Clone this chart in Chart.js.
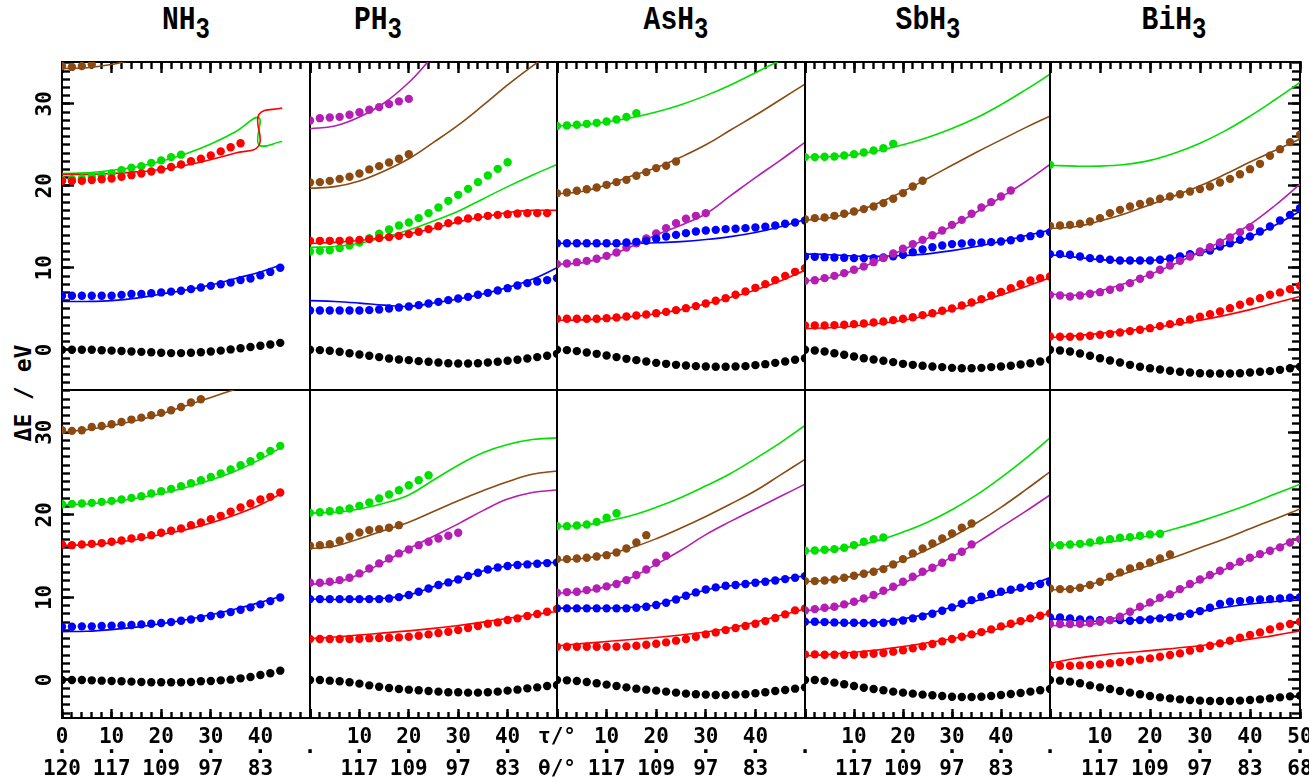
<!DOCTYPE html>
<html>
<head>
<meta charset="utf-8">
<title>Hydride potential curves</title>
<script src="https://cdn.jsdelivr.net/npm/chart.js@4.4.1/dist/chart.umd.min.js"></script>
<style>
  html, body { margin: 0; padding: 0; background: #fff; }
  #page { position: relative; width: 1309px; height: 782px; overflow: hidden; }
  #page canvas { position: absolute; }
  .title {
    position: absolute; top: 8px; width: 140px; margin-left: -70px; text-align: center;
    font: bold 28px "Liberation Mono", monospace; line-height: 32px;
    transform: scaleY(1.2); transform-origin: 50% 100%;
  }
  .title sub { font-size: 24px; vertical-align: -7px; line-height: 0; }
  #ylabel {
    position: absolute; left: 23px; top: 393px; white-space: pre;
    transform: translate(-50%, -50%) rotate(-90deg);
    font: bold 23px "DejaVu Sans Mono", monospace;
  }
</style>
</head>
<body>
<div id="page">
  <div class="title" style="left:186px">NH<sub>3</sub></div>
  <div class="title" style="left:378px">PH<sub>3</sub></div>
  <div class="title" style="left:676px">AsH<sub>3</sub></div>
  <div class="title" style="left:928px">SbH<sub>3</sub></div>
  <div class="title" style="left:1174px">BiH<sub>3</sub></div>
  <div id="ylabel">ΔE / eV</div>
</div>
<script>
// x grid: dots every 2 deg, fitted curves sampled every 5 deg
const tauDots = [0, 2, 4, 6, 8, 10, 12, 14, 16, 18, 20, 22, 24, 26, 28, 30, 32, 34, 36, 38, 40, 42, 44, 46, 48, 50];
const tauLine = [0, 5, 10, 15, 20, 25, 30, 35, 40, 45, 50];
const tauLineNH3 = [0, 5, 10, 15, 20, 25, 30, 35, 40, 44];
const tauCrossNH3 = [0, 5, 10, 15, 20, 25, 30, 35, 39.7, 39.7, 44.4];
const tauBrownNH3U = [0, 5, 10, 13];
const tauBrownNH3L = [0, 5, 10, 15, 20, 25, 30, 35];
const tauBrownPH3U = [0, 5, 10, 15, 20, 25, 30, 35, 40, 45, 48];
const tauMagentaPH3U = [0, 5, 10, 15, 20, 24];
const tauGreenAsH3U = [0, 5, 10, 15, 20, 25, 30, 35, 40, 45];

const tauTicks = [0, 10, 20, 30, 40, 50];
const tauLabels = ['0', '10', '20', '30', '40', '50'];
const thetaLabels = ['120', '117', '109', '97', '83', '68'];
const yTicks = [0, 10, 20, 30];

const colors = {
  black: '#000000', red: '#ff0000', blue: '#0000ff',
  green: '#00e000', brown: '#8b4a12', magenta: '#b41eb4'
};

// ---- NH3, upper row
const nh3U_black = [0, 0, 0, 0, -0.05, -0.1, -0.15, -0.2, -0.25, -0.3, -0.35, -0.4, -0.4, -0.35, -0.3, -0.2, -0.1, 0.05, 0.2, 0.35, 0.5, 0.65, 0.85];
const nh3U_blue = [6.6, 6.6, 6.6, 6.6, 6.6, 6.6, 6.7, 6.8, 6.8, 6.9, 7.0, 7.1, 7.2, 7.4, 7.6, 7.8, 8.0, 8.2, 8.5, 8.7, 9.1, 9.5, 10.0];
const nh3U_red = [20.6, 20.6, 20.6, 20.7, 20.8, 20.9, 21.1, 21.3, 21.5, 21.75, 22.0, 22.3, 22.6, 23.0, 23.3, 23.7, 24.2, 24.7, 25.2];
const nh3U_green = [20.7, 20.8, 20.9, 21.1, 21.3, 21.5, 21.9, 22.2, 22.4, 22.8, 23.1, 23.5, 23.8];
const nh3U_brown = [34.6, 34.5, 34.6, 34.8];
const nh3U_blueLine = [5.9, 5.9, 6.0, 6.3, 6.8, 7.3, 7.9, 8.7, 9.5, 10.3];
const nh3U_redLine = [21.4, 21.4, 21.5, 21.7, 22.0, 22.5, 23.2, 24.0, 24.9, 28.7, 29.5];
const nh3U_greenLine = [21.5, 21.6, 21.9, 22.3, 23.0, 23.9, 25.1, 26.6, 28.3, 25.0, 25.4];
const nh3U_brownLine = [34.3, 34.4, 34.8, 35.2];

// ---- PH3, upper row
const ph3U_black = [0, -0.04, -0.12, -0.24, -0.41, -0.57, -0.73, -0.89, -1.06, -1.18, -1.26, -1.38, -1.46, -1.54, -1.63, -1.67, -1.67, -1.63, -1.54, -1.46, -1.34, -1.22, -1.06, -0.89, -0.73, -0.49];
const ph3U_blue = [4.8, 4.8, 4.8, 4.8, 4.8, 4.8, 4.84, 4.92, 5.04, 5.16, 5.28, 5.45, 5.65, 5.85, 6.06, 6.26, 6.46, 6.71, 6.95, 7.24, 7.52, 7.85, 8.13, 8.33, 8.5, 8.74];
const ph3U_red = [13.29, 13.29, 13.29, 13.29, 13.33, 13.41, 13.5, 13.62, 13.74, 13.9, 14.11, 14.39, 14.72, 15.08, 15.45, 15.77, 16.02, 16.18, 16.34, 16.46, 16.54, 16.63, 16.67, 16.67, 16.67];
const ph3U_green = [12.0, 12.07, 12.15, 12.4, 12.72, 13.09, 13.62, 14.15, 14.67, 15.16, 15.53, 16.06, 16.67, 17.36, 18.17, 18.9, 19.63, 20.45, 21.26, 22.07, 22.88];
const ph3U_brown = [20.4, 20.45, 20.6, 20.85, 21.1, 21.5, 22.0, 22.4, 22.85, 23.3, 23.85];
const ph3U_magenta = [27.97, 28.25, 28.33, 28.41, 28.66, 28.98, 29.27, 29.6, 29.96, 30.3, 30.6];
const ph3U_blueLine = [6.0, 5.9, 5.7, 5.45, 5.3, 5.7, 6.2, 6.8, 7.6, 8.6, 10.0];
const ph3U_redLine = [13.0, 13.1, 13.33, 13.7, 14.15, 14.8, 15.6, 16.2, 16.75, 17.0, 17.0];
const ph3U_greenLine = [12.5, 12.6, 13.0, 13.7, 14.6, 15.7, 16.9, 18.4, 19.9, 21.3, 22.6];
const ph3U_brownLine = [19.7, 19.9, 20.6, 21.8, 23.3, 25.3, 27.4, 29.8, 32.3, 34.6, 35.8];
const ph3U_magentaLine = [26.95, 27.3, 28.4, 30.1, 32.6, 35.2];

// ---- AsH3, upper row
const ash3U_black = [0, -0.04, -0.16, -0.33, -0.49, -0.69, -0.89, -1.1, -1.26, -1.42, -1.59, -1.71, -1.83, -1.91, -1.99, -2.03, -2.07, -2.07, -2.03, -1.99, -1.87, -1.75, -1.59, -1.42, -1.22, -1.02];
const ash3U_red = [3.78, 3.78, 3.78, 3.78, 3.78, 3.86, 3.94, 4.07, 4.19, 4.31, 4.47, 4.63, 4.84, 5.08, 5.33, 5.65, 5.98, 6.3, 6.71, 7.11, 7.56, 8.01, 8.5, 9.02, 9.51, 9.96];
const ash3U_blue = [13.0, 13.0, 13.0, 13.0, 13.0, 13.0, 13.0, 13.09, 13.17, 13.29, 13.54, 13.82, 14.02, 14.23, 14.43, 14.55, 14.63, 14.72, 14.76, 14.84, 14.92, 15.0, 15.17, 15.37, 15.53, 15.77];
const ash3U_magenta = [10.45, 10.53, 10.69, 10.85, 11.1, 11.46, 11.87, 12.48, 13.0, 13.58, 14.19, 14.84, 15.45, 15.98, 16.34, 16.67];
const ash3U_brown = [19.1, 19.19, 19.39, 19.59, 19.8, 20.12, 20.45, 20.73, 21.22, 21.67, 22.16, 22.44, 22.97];
const ash3U_green = [27.3, 27.35, 27.44, 27.56, 27.68, 27.85, 28.09, 28.41, 28.86];
const ash3U_redLine = [3.6, 3.65, 3.8, 4.05, 4.4, 4.9, 5.6, 6.4, 7.3, 8.4, 9.7];
const ash3U_blueLine = [13.0, 12.95, 12.9, 12.95, 13.05, 13.2, 13.45, 13.8, 14.3, 15.0, 15.9];
const ash3U_magentaLine = [10.45, 10.6, 11.4, 12.6, 14.0, 15.2, 16.6, 18.8, 21.0, 23.1, 25.3];
const ash3U_brownLine = [19.0, 19.3, 20.1, 21.2, 22.2, 23.5, 25.0, 26.8, 28.6, 30.5, 32.4];
const ash3U_greenLine = [27.3, 27.4, 27.8, 28.3, 29.0, 29.9, 31.0, 32.3, 33.8, 35.3];

// ---- SbH3, upper row
const sbh3U_black = [0, -0.08, -0.2, -0.41, -0.61, -0.81, -1.02, -1.18, -1.34, -1.5, -1.71, -1.83, -1.95, -2.03, -2.11, -2.2, -2.24, -2.24, -2.2, -2.11, -2.03, -1.95, -1.79, -1.63, -1.42, -1.22];
const sbh3U_red = [2.97, 2.97, 2.97, 3.01, 3.05, 3.13, 3.21, 3.33, 3.45, 3.62, 3.78, 3.98, 4.23, 4.47, 4.76, 5.04, 5.41, 5.77, 6.18, 6.63, 7.07, 7.52, 8.01, 8.46, 8.74, 8.94];
const sbh3U_magenta = [8.41, 8.49, 8.74, 9.02, 9.35, 9.76, 10.16, 10.69, 11.18, 11.75, 12.32, 12.89, 13.41, 13.98, 14.55, 15.24, 15.85, 16.59, 17.36, 18.01, 18.7, 19.43];
const sbh3U_blue = [11.38, 11.34, 11.3, 11.26, 11.22, 11.18, 11.18, 11.18, 11.26, 11.42, 11.59, 11.91, 12.24, 12.52, 12.72, 12.89, 12.97, 13.05, 13.09, 13.13, 13.21, 13.37, 13.62, 13.86, 14.15, 14.35];
const sbh3U_brown = [15.93, 16.06, 16.14, 16.34, 16.59, 16.87, 17.16, 17.48, 17.89, 18.42, 19.11, 19.92, 20.61];
const sbh3U_green = [23.5, 23.5, 23.54, 23.58, 23.7, 23.86, 24.07, 24.31, 24.59, 25.12];
const sbh3U_redLine = [2.6, 2.7, 2.9, 3.2, 3.6, 4.2, 4.9, 5.7, 6.7, 7.7, 8.8];
const sbh3U_magentaLine = [8.4, 8.8, 9.7, 10.9, 12.2, 13.6, 15.1, 16.8, 18.6, 20.5, 22.6];
const sbh3U_blueLine = [11.7, 11.6, 11.45, 11.4, 11.5, 11.7, 12.1, 12.6, 13.2, 13.9, 14.6];
const sbh3U_brownLine = [15.8, 16.1, 16.8, 17.9, 19.3, 20.9, 22.5, 24.1, 25.6, 27.1, 28.5];
const sbh3U_greenLine = [23.5, 23.55, 23.8, 24.3, 25.0, 25.9, 27.0, 28.3, 29.9, 31.7, 33.6];

// ---- BiH3, upper row
const bih3U_black = [0, -0.08, -0.2, -0.45, -0.73, -1.02, -1.3, -1.54, -1.83, -2.07, -2.24, -2.4, -2.56, -2.68, -2.76, -2.85, -2.89, -2.89, -2.89, -2.85, -2.76, -2.68, -2.6, -2.44, -2.24, -2.07];
const bih3U_red = [1.63, 1.59, 1.59, 1.63, 1.71, 1.83, 1.95, 2.11, 2.28, 2.44, 2.64, 2.89, 3.13, 3.41, 3.7, 4.03, 4.35, 4.67, 5.08, 5.49, 5.89, 6.3, 6.71, 7.0, 7.4, 7.8];
const bih3U_magenta = [6.7, 6.63, 6.5, 6.63, 6.83, 7.03, 7.32, 7.6, 8.13, 8.66, 9.15, 9.76, 10.28, 10.85, 11.38, 11.99, 12.52, 13.09, 13.7, 14.35, 14.96];
const bih3U_blue = [11.67, 11.67, 11.59, 11.38, 11.18, 11.1, 10.98, 10.89, 10.89, 10.89, 10.89, 10.98, 11.14, 11.38, 11.67, 11.91, 12.11, 12.6, 13.0, 13.41, 13.82, 14.43, 15.04, 15.77, 16.46, 17.28];
const bih3U_brown = [15.12, 15.16, 15.24, 15.37, 15.65, 16.06, 16.67, 17.07, 17.48, 17.8, 18.09, 18.42, 18.7, 18.98, 19.31, 19.6, 19.92, 20.41, 20.85, 21.42, 22.03, 22.68, 23.66, 24.47, 25.33, 26.22];
const bih3U_green = [22.56];
const bih3U_redLine = [1.5, 1.7, 2.0, 2.3, 2.65, 3.1, 3.6, 4.2, 4.9, 5.7, 6.5];
const bih3U_magentaLine = [6.8, 6.65, 7.2, 8.1, 9.2, 10.5, 11.9, 13.5, 15.3, 17.6, 20.2];
const bih3U_blueLine = [11.6, 11.3, 11.0, 10.85, 10.9, 11.2, 11.8, 12.7, 13.8, 15.2, 16.9];
const bih3U_brownLine = [14.8, 15.0, 15.7, 16.6, 17.7, 18.8, 20.0, 21.4, 22.9, 24.3, 25.7];
const bih3U_greenLine = [22.5, 22.4, 22.4, 22.6, 23.1, 24.0, 25.2, 26.7, 28.5, 30.5, 32.6];

// ---- NH3, lower row
const nh3L_black = [0, 0, 0, -0.04, -0.08, -0.12, -0.16, -0.2, -0.24, -0.28, -0.28, -0.28, -0.28, -0.24, -0.16, -0.12, -0.04, 0.04, 0.2, 0.36, 0.6, 0.81, 1.13];
const nh3L_blue = [6.45, 6.45, 6.49, 6.49, 6.53, 6.57, 6.61, 6.65, 6.73, 6.81, 6.89, 7.01, 7.17, 7.33, 7.49, 7.74, 7.94, 8.22, 8.5, 8.79, 9.15, 9.55, 9.99];
const nh3L_red = [16.4, 16.32, 16.4, 16.48, 16.57, 16.73, 16.89, 17.13, 17.29, 17.53, 17.82, 18.06, 18.34, 18.74, 19.07, 19.47, 19.87, 20.36, 20.88, 21.37, 21.85, 22.17, 22.7];
const nh3L_green = [21.28, 21.32, 21.36, 21.44, 21.56, 21.68, 21.84, 22.04, 22.25, 22.57, 22.85, 23.13, 23.46, 23.82, 24.18, 24.58, 24.99, 25.48, 26.0, 26.48, 27.13, 27.73, 28.34];
const nh3L_brown = [30.23, 30.15, 30.23, 30.63, 30.75, 30.95, 31.23, 31.52, 31.76, 32.04, 32.33, 32.65, 33.05, 33.58, 33.98];
const nh3L_blueLine = [5.85, 5.9, 6.1, 6.4, 6.8, 7.3, 7.9, 8.6, 9.4, 10.1];
const nh3L_redLine = [16.3, 16.35, 16.6, 17.0, 17.6, 18.2, 19.0, 20.0, 21.2, 22.5];
const nh3L_greenLine = [21.2, 21.3, 21.6, 22.0, 22.6, 23.3, 24.2, 25.3, 26.7, 28.1];
const nh3L_brownLine = [30.0, 30.3, 30.8, 31.4, 32.2, 33.2, 34.2, 35.2];

// ---- PH3, lower row
const ph3L_black = [0, 0, -0.08, -0.16, -0.28, -0.44, -0.65, -0.81, -0.97, -1.09, -1.17, -1.25, -1.33, -1.41, -1.49, -1.49, -1.53, -1.53, -1.49, -1.41, -1.29, -1.17, -1.01, -0.89, -0.73, -0.6];
const ph3L_red = [4.96, 4.96, 4.96, 4.96, 4.96, 5.0, 5.04, 5.08, 5.12, 5.16, 5.24, 5.36, 5.52, 5.68, 5.84, 6.04, 6.29, 6.53, 6.81, 6.97, 7.26, 7.46, 7.74, 7.98, 8.26, 8.59];
const ph3L_blue = [9.79, 9.79, 9.79, 9.79, 9.79, 9.79, 9.79, 9.79, 9.87, 10.03, 10.28, 10.68, 11.08, 11.49, 11.81, 12.17, 12.58, 12.98, 13.38, 13.62, 13.79, 13.91, 13.99, 14.07, 14.15, 14.23];
const ph3L_magenta = [11.77, 11.77, 11.89, 12.09, 12.37, 12.9, 13.5, 14.11, 14.71, 15.32, 15.8, 16.32, 16.73, 17.13, 17.45, 17.82];
const ph3L_brown = [16.24, 16.32, 16.44, 16.85, 17.33, 17.86, 18.14, 18.26, 18.42, 18.74];
const ph3L_green = [20.23, 20.31, 20.43, 20.55, 20.75, 21.08, 21.48, 21.97, 22.45, 22.97, 23.58, 24.18, 24.79];
const ph3L_redLine = [5.0, 5.2, 5.45, 5.7, 5.95, 6.25, 6.6, 7.0, 7.45, 7.9, 8.3];
const ph3L_blueLine = [9.8, 9.75, 9.8, 9.9, 10.3, 11.3, 12.2, 13.2, 13.8, 14.1, 14.25];
const ph3L_magentaLine = [11.6, 11.8, 12.8, 14.3, 15.9, 17.4, 18.9, 20.5, 21.9, 22.7, 23.0];
const ph3L_brownLine = [15.9, 16.2, 17.1, 18.1, 19.1, 20.4, 21.7, 22.9, 24.0, 24.9, 25.3];
const ph3L_greenLine = [20.2, 20.3, 20.7, 21.4, 22.4, 24.2, 26.0, 27.5, 28.5, 29.1, 29.3];

// ---- AsH3, lower row
const ash3L_black = [0, -0.04, -0.12, -0.24, -0.4, -0.56, -0.73, -0.89, -1.05, -1.17, -1.29, -1.41, -1.53, -1.65, -1.73, -1.77, -1.81, -1.81, -1.77, -1.73, -1.61, -1.49, -1.33, -1.21, -1.05, -0.89];
const ash3L_red = [4.03, 4.03, 4.03, 4.03, 4.03, 4.03, 4.03, 4.07, 4.15, 4.27, 4.39, 4.55, 4.76, 4.96, 5.24, 5.52, 5.76, 6.04, 6.29, 6.53, 6.81, 7.13, 7.5, 7.94, 8.43, 8.67];
const ash3L_blue = [8.67, 8.67, 8.67, 8.67, 8.67, 8.67, 8.67, 8.67, 8.75, 8.87, 9.07, 9.35, 9.75, 10.2, 10.6, 10.96, 11.21, 11.41, 11.49, 11.61, 11.77, 11.89, 12.05, 12.21, 12.37, 12.57];
const ash3L_magenta = [10.56, 10.64, 10.68, 10.88, 11.08, 11.33, 11.61, 12.09, 12.7, 13.38, 14.19, 15.04];
const ash3L_brown = [14.63, 14.63, 14.71, 14.79, 14.95, 15.11, 15.43, 15.92, 16.65, 17.53];
const ash3L_green = [18.62, 18.62, 18.7, 18.82, 19.14, 19.63, 20.19];
const ash3L_redLine = [4.15, 4.4, 4.65, 4.9, 5.15, 5.45, 5.8, 6.3, 7.0, 7.8, 8.6];
const ash3L_blueLine = [8.7, 8.7, 8.7, 8.8, 9.1, 10.0, 10.9, 11.4, 11.8, 12.2, 12.6];
const ash3L_magentaLine = [10.5, 10.7, 11.3, 12.4, 14.0, 15.7, 17.6, 19.2, 20.7, 22.2, 23.7];
const ash3L_brownLine = [14.5, 14.7, 15.2, 16.0, 17.1, 18.4, 19.8, 21.3, 22.9, 24.8, 26.7];
const ash3L_greenLine = [18.6, 18.7, 19.2, 19.9, 20.9, 22.1, 23.5, 25.0, 26.8, 28.7, 30.8];

// ---- SbH3, lower row
const sbh3L_black = [0, 0, -0.12, -0.32, -0.52, -0.73, -0.93, -1.09, -1.25, -1.41, -1.53, -1.65, -1.77, -1.85, -1.93, -2.02, -2.06, -2.06, -2.02, -1.93, -1.81, -1.69, -1.57, -1.41, -1.25, -1.09];
const sbh3L_red = [3.1, 3.1, 3.06, 3.06, 3.06, 3.06, 3.1, 3.18, 3.26, 3.43, 3.59, 3.83, 4.07, 4.35, 4.68, 4.96, 5.24, 5.52, 5.8, 6.13, 6.49, 6.81, 7.13, 7.46, 7.78, 8.06];
const sbh3L_blue = [7.05, 7.05, 7.01, 6.97, 6.93, 6.93, 6.89, 6.89, 6.93, 7.05, 7.21, 7.46, 7.7, 8.02, 8.38, 8.79, 9.23, 9.67, 10.08, 10.4, 10.68, 10.92, 11.16, 11.37, 11.61, 11.81];
const sbh3L_magenta = [8.42, 8.58, 8.74, 8.87, 9.15, 9.47, 9.87, 10.28, 10.8, 11.29, 11.89, 12.5, 13.1, 13.59, 14.19, 14.84, 15.52, 16.41];
const sbh3L_brown = [11.97, 11.97, 12.05, 12.17, 12.37, 12.61, 12.86, 13.1, 13.42, 13.99, 14.63, 15.32, 15.92, 16.53, 17.13, 17.74, 18.42, 18.95];
const sbh3L_green = [15.64, 15.68, 15.76, 15.84, 16.0, 16.33, 16.73, 17.05, 17.25];
const sbh3L_redLine = [2.9, 3.1, 3.35, 3.65, 4.05, 4.5, 5.0, 5.6, 6.3, 7.2, 8.1];
const sbh3L_blueLine = [7.0, 6.95, 6.9, 7.0, 7.4, 8.0, 8.8, 9.6, 10.4, 11.3, 12.4];
const sbh3L_magentaLine = [8.4, 8.7, 9.4, 10.4, 11.7, 13.2, 14.9, 16.6, 18.5, 20.4, 22.4];
const sbh3L_brownLine = [11.9, 12.1, 12.6, 13.4, 14.5, 15.8, 17.3, 19.0, 20.9, 23.0, 25.2];
const sbh3L_greenLine = [15.6, 15.75, 16.2, 16.9, 17.9, 19.1, 20.6, 22.4, 24.5, 26.8, 29.3];

// ---- BiH3, lower row
const bih3L_black = [0, -0.08, -0.2, -0.4, -0.65, -0.89, -1.09, -1.33, -1.53, -1.73, -1.93, -2.1, -2.22, -2.34, -2.42, -2.5, -2.54, -2.54, -2.54, -2.5, -2.42, -2.34, -2.22, -2.1, -1.98, -1.89];
const bih3L_red = [1.81, 1.73, 1.73, 1.77, 1.81, 1.89, 2.02, 2.14, 2.3, 2.46, 2.62, 2.82, 3.02, 3.22, 3.55, 3.83, 4.15, 4.43, 4.76, 5.12, 5.44, 5.76, 6.13, 6.49, 6.77, 7.05];
const bih3L_magenta = [6.77, 6.77, 6.77, 6.81, 6.89, 7.05, 7.25, 7.66, 8.26, 8.87, 9.39, 9.96, 10.36, 11.0, 11.61, 12.17, 12.7, 13.22, 13.79, 14.31, 14.8, 15.24, 15.64, 16.05, 16.65, 17.05];
const bih3L_blue = [7.58, 7.58, 7.46, 7.33, 7.29, 7.25, 7.25, 7.25, 7.17, 7.25, 7.33, 7.46, 7.58, 7.7, 8.02, 8.34, 8.75, 9.19, 9.47, 9.55, 9.67, 9.75, 9.79, 9.87, 9.95, 10.03];
const bih3L_brown = [11.08, 11.0, 11.0, 11.17, 11.49, 11.89, 12.5, 13.02, 13.5, 13.79, 14.23, 14.71, 15.2];
const bih3L_green = [16.32, 16.32, 16.4, 16.48, 16.65, 16.89, 17.05, 17.21, 17.29, 17.45, 17.62, 17.7];
const bih3L_redLine = [2.0, 2.6, 3.0, 3.3, 3.55, 3.85, 4.15, 4.5, 4.95, 5.4, 5.95];
const bih3L_magentaLine = [6.6, 6.6, 6.9, 8.0, 9.2, 10.6, 12.0, 13.4, 14.6, 15.9, 17.3];
const bih3L_blueLine = [7.4, 7.2, 7.1, 7.2, 7.4, 7.8, 8.3, 8.8, 9.2, 9.5, 9.7];
const bih3L_brownLine = [10.9, 11.1, 11.9, 12.9, 13.9, 14.9, 16.0, 17.1, 18.3, 19.5, 20.7];
const bih3L_greenLine = [16.3, 16.4, 16.6, 17.0, 17.5, 18.3, 19.2, 20.2, 21.3, 22.5, 23.7];

// [colour, dots, fitted curve, curve tau grid]
const panels = [
  { row: 0, col: 0, series: [
    ['black', nh3U_black],
    ['blue', nh3U_blue, nh3U_blueLine, tauLineNH3],
    ['red', nh3U_red, nh3U_redLine, tauCrossNH3],
    ['green', nh3U_green, nh3U_greenLine, tauCrossNH3],
    ['brown', nh3U_brown, nh3U_brownLine, tauBrownNH3U]] },
  { row: 0, col: 1, series: [
    ['black', ph3U_black],
    ['blue', ph3U_blue, ph3U_blueLine],
    ['red', ph3U_red, ph3U_redLine],
    ['green', ph3U_green, ph3U_greenLine],
    ['brown', ph3U_brown, ph3U_brownLine, tauBrownPH3U],
    ['magenta', ph3U_magenta, ph3U_magentaLine, tauMagentaPH3U]] },
  { row: 0, col: 2, series: [
    ['black', ash3U_black],
    ['red', ash3U_red, ash3U_redLine],
    ['blue', ash3U_blue, ash3U_blueLine],
    ['magenta', ash3U_magenta, ash3U_magentaLine],
    ['brown', ash3U_brown, ash3U_brownLine],
    ['green', ash3U_green, ash3U_greenLine, tauGreenAsH3U]] },
  { row: 0, col: 3, series: [
    ['black', sbh3U_black],
    ['red', sbh3U_red, sbh3U_redLine],
    ['magenta', sbh3U_magenta, sbh3U_magentaLine],
    ['blue', sbh3U_blue, sbh3U_blueLine],
    ['brown', sbh3U_brown, sbh3U_brownLine],
    ['green', sbh3U_green, sbh3U_greenLine]] },
  { row: 0, col: 4, series: [
    ['black', bih3U_black],
    ['red', bih3U_red, bih3U_redLine],
    ['magenta', bih3U_magenta, bih3U_magentaLine],
    ['blue', bih3U_blue, bih3U_blueLine],
    ['brown', bih3U_brown, bih3U_brownLine],
    ['green', bih3U_green, bih3U_greenLine]] },
  { row: 1, col: 0, series: [
    ['black', nh3L_black],
    ['blue', nh3L_blue, nh3L_blueLine, tauLineNH3],
    ['red', nh3L_red, nh3L_redLine, tauLineNH3],
    ['green', nh3L_green, nh3L_greenLine, tauLineNH3],
    ['brown', nh3L_brown, nh3L_brownLine, tauBrownNH3L]] },
  { row: 1, col: 1, series: [
    ['black', ph3L_black],
    ['red', ph3L_red, ph3L_redLine],
    ['blue', ph3L_blue, ph3L_blueLine],
    ['magenta', ph3L_magenta, ph3L_magentaLine],
    ['brown', ph3L_brown, ph3L_brownLine],
    ['green', ph3L_green, ph3L_greenLine]] },
  { row: 1, col: 2, series: [
    ['black', ash3L_black],
    ['red', ash3L_red, ash3L_redLine],
    ['blue', ash3L_blue, ash3L_blueLine],
    ['magenta', ash3L_magenta, ash3L_magentaLine],
    ['brown', ash3L_brown, ash3L_brownLine],
    ['green', ash3L_green, ash3L_greenLine]] },
  { row: 1, col: 3, series: [
    ['black', sbh3L_black],
    ['red', sbh3L_red, sbh3L_redLine],
    ['blue', sbh3L_blue, sbh3L_blueLine],
    ['magenta', sbh3L_magenta, sbh3L_magentaLine],
    ['brown', sbh3L_brown, sbh3L_brownLine],
    ['green', sbh3L_green, sbh3L_greenLine]] },
  { row: 1, col: 4, series: [
    ['black', bih3L_black],
    ['red', bih3L_red, bih3L_redLine],
    ['magenta', bih3L_magenta, bih3L_magentaLine],
    ['blue', bih3L_blue, bih3L_blueLine],
    ['brown', bih3L_brown, bih3L_brownLine],
    ['green', bih3L_green, bih3L_greenLine]] }
];

const colX = [62, 310, 557, 805, 1050, 1300];
const rowY = [62, 390, 718];
const yRange = [[-4.9, 35.1], [-4.6, 35.1]];
const tickFont = { family: '"DejaVu Sans Mono", monospace', size: 21, weight: 'bold', lineHeight: 16 / 21 };

// positions of the inward tick marks on the frame
const xMinorMarks = [0, 2, 4, 6, 8, 10, 12, 14, 16, 18, 20, 22, 24, 26, 28, 30, 32, 34, 36, 38, 40, 42, 44, 46, 48, 50];
const xMajorMarks = [0, 10, 20, 30, 40, 50];
const yMinorMarks = [-4, -3, -2, -1, 0, 1, 2, 3, 4, 5, 6, 7, 8, 9, 10, 11, 12, 13, 14, 15, 16, 17, 18, 19, 20,
  21, 22, 23, 24, 25, 26, 27, 28, 29, 30, 31, 32, 33, 34, 35];
const yMajorMarks = [0, 10, 20, 30];

// one frame side: a label-less axis whose border is the frame line and
// whose (negative length) tick marks point into the plot
function edgeScale(axis, position, range, marks, len, withTicks, withBorder) {
  return {
    type: 'linear', axis, position, min: range[0], max: range[1], weight: -1,
    ticks: { display: false },
    grid: {
      display: true, drawOnChartArea: false, drawTicks: withTicks,
      tickLength: -len, tickWidth: 2.4, tickColor: '#000000', lineWidth: 1
    },
    border: { display: withBorder, width: 2, color: '#000000' },
    afterBuildTicks: s => { s.ticks = marks.map(v => ({ value: v })); },
    afterFit: s => {
      if (axis === 'x') s.height = 0; else s.width = 0;
      s.paddingTop = 0; s.paddingBottom = 0; s.paddingLeft = 0; s.paddingRight = 0;
    }
  };
}

function xTickLabel(value, col) {
  const i = tauTicks.indexOf(value);
  if (value === 0 && col === 2) return ['τ/°', '', 'θ/°'];
  if (value === 0 && col > 0) return ['', '·', ''];
  return [tauLabels[i], '·', thetaLabels[i]];
}

const page = document.getElementById('page');

panels.forEach(p => {
  const showX = p.row === 1;
  const showY = p.col === 0;
  const padL = showY ? 62 : 30;
  const padR = p.col === 4 ? 9 : 30;
  const padT = 10;
  const padB = showX ? 64 : 10;
  const w = colX[p.col + 1] - colX[p.col];
  const h = rowY[p.row + 1] - rowY[p.row];
  const yr = yRange[p.row];

  const canvas = document.createElement('canvas');
  canvas.width = w + padL + padR;
  canvas.height = h + padT + padB;
  canvas.style.left = (colX[p.col] - padL) + 'px';
  canvas.style.top = (rowY[p.row] - padT) + 'px';
  page.appendChild(canvas);

  const datasets = [];
  p.series.forEach(([name, dots, line, xs]) => {
    const c = colors[name];
    if (dots) {
      datasets.push({
        data: dots.map((v, i) => ({ x: tauDots[i], y: v })),
        xAxisID: 'x', yAxisID: 'y',
        showLine: false, pointRadius: 4.2, pointBorderWidth: 0,
        pointBackgroundColor: c, pointBorderColor: c, order: 0
      });
    }
    if (line) {
      const grid = xs || tauLine;
      datasets.push({
        data: line.map((v, i) => ({ x: grid[i], y: v })),
        xAxisID: 'x', yAxisID: 'y',
        borderColor: c, borderWidth: 1.6, pointRadius: 0, tension: 0.4, fill: false, order: 1
      });
    }
  });

  const tickTop = p.row === 0, tickBottom = p.row === 1;
  const tickLeft = p.col === 0, tickRight = p.col === 4;

  const scales = {
    x: {
      type: 'linear', min: 0, max: 50, position: 'bottom',
      display: showX,
      grid: { display: false, drawTicks: false },
      border: { display: false },
      afterBuildTicks: s => {
        s.ticks = tauTicks.filter(t => t < 50 || p.col === 4).map(v => ({ value: v }));
      },
      afterFit: s => {
        if (!showX) return;
        s.height = 64; s.paddingLeft = 0; s.paddingRight = 0;
      },
      ticks: {
        autoSkip: false, maxRotation: 0, minRotation: 0, padding: 11.5,
        color: '#000', font: tickFont,
        callback: v => xTickLabel(v, p.col)
      }
    },
    y: {
      type: 'linear', min: yr[0], max: yr[1], position: 'left',
      display: showY,
      grid: { display: false, drawTicks: false },
      border: { display: false },
      afterBuildTicks: s => { s.ticks = yTicks.map(v => ({ value: v })); },
      afterFit: s => {
        if (!showY) return;
        s.width = 62; s.paddingTop = 0; s.paddingBottom = 0;
      },
      ticks: {
        minRotation: 90, maxRotation: 90, crossAlign: 'center', padding: 4,
        color: '#000', font: tickFont
      }
    },
    edgeTop: edgeScale('x', 'top', [0, 50], xMinorMarks, 7, tickTop, true),
    edgeBottom: edgeScale('x', 'bottom', [0, 50], xMinorMarks, 6, tickBottom, true),
    edgeLeft: edgeScale('y', 'left', yr, yMinorMarks, 8, tickLeft, true),
    edgeRight: edgeScale('y', 'right', yr, yMinorMarks, 8, tickRight, true)
  };
  if (tickTop) scales.edgeTopMajor = edgeScale('x', 'top', [0, 50], xMajorMarks, 11, true, false);
  if (tickBottom) scales.edgeBottomMajor = edgeScale('x', 'bottom', [0, 50], xMajorMarks, 9, true, false);
  if (tickLeft) scales.edgeLeftMajor = edgeScale('y', 'left', yr, yMajorMarks, 12, true, false);
  if (tickRight) scales.edgeRightMajor = edgeScale('y', 'right', yr, yMajorMarks, 12, true, false);

  new Chart(canvas, {
    type: 'line',
    data: { datasets },
    options: {
      responsive: false,
      animation: false,
      devicePixelRatio: 1,
      events: [],
      layout: { padding: { left: showY ? 0 : padL, right: padR, top: padT, bottom: showX ? 0 : padB } },
      plugins: {
        legend: { display: false },
        tooltip: { enabled: false }
      },
      scales
    }
  });
});
</script>
</body>
</html>
